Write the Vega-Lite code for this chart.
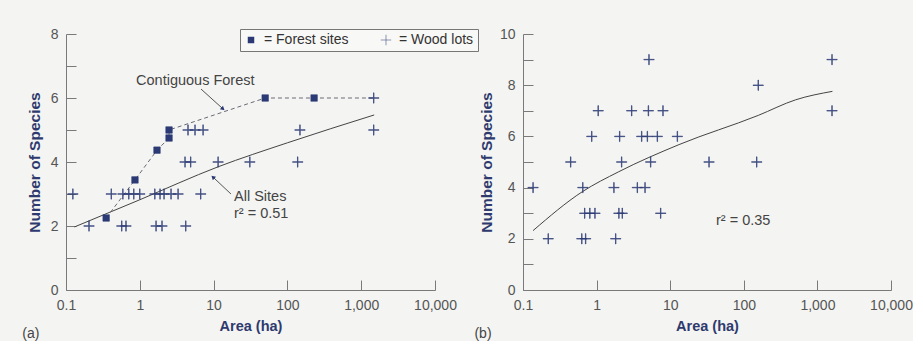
{
  "$schema": "https://vega.github.io/schema/vega-lite/v6.json",
  "background": "#f4f4f2",
  "padding": {"left": 22, "top": 27, "right": 0, "bottom": 0},
  "autosize": {"type": "pad"},
  "spacing": -5,
  "config": {
    "view": {"stroke": null},
    "font": "Liberation Sans",
    "axis": {
      "grid": false,
      "tickSize": -10,
      "labelPadding": 18,
      "domainColor": "#7a7a7a",
      "tickColor": "#7a7a7a",
      "domainWidth": 1,
      "tickWidth": 1,
      "labelColor": "#555555",
      "labelFontSize": 14,
      "labelFont": "Liberation Sans",
      "titleFont": "Liberation Sans",
      "titleFontSize": 14.5,
      "titleFontWeight": "bold",
      "titleColor": "#2e3a6e",
      "titlePadding": 8
    },
    "axisX": {"titlePadding": 7, "labelFlush": false},
    "axisY": {"titleFontSize": 15.5},
    "title": {"font": "Liberation Sans"}
  },
  "resolve": {"scale": {"x": "independent", "y": "independent", "shape": "independent"}},
  "datasets": {
    "ptsA": [
      {"area": 0.205, "species": 2, "type": "Wood lots"},
      {"area": 0.57, "species": 2, "type": "Wood lots"},
      {"area": 0.65, "species": 2, "type": "Wood lots"},
      {"area": 1.66, "species": 2, "type": "Wood lots"},
      {"area": 2.0, "species": 2, "type": "Wood lots"},
      {"area": 4.2, "species": 2, "type": "Wood lots"},
      {"area": 0.124, "species": 3, "type": "Wood lots"},
      {"area": 0.41, "species": 3, "type": "Wood lots"},
      {"area": 0.59, "species": 3, "type": "Wood lots"},
      {"area": 0.71, "species": 3, "type": "Wood lots"},
      {"area": 0.83, "species": 3, "type": "Wood lots"},
      {"area": 1.0, "species": 3, "type": "Wood lots"},
      {"area": 1.6, "species": 3, "type": "Wood lots"},
      {"area": 1.88, "species": 3, "type": "Wood lots"},
      {"area": 2.13, "species": 3, "type": "Wood lots"},
      {"area": 2.65, "species": 3, "type": "Wood lots"},
      {"area": 3.3, "species": 3, "type": "Wood lots"},
      {"area": 6.7, "species": 3, "type": "Wood lots"},
      {"area": 4.1, "species": 4, "type": "Wood lots"},
      {"area": 4.9, "species": 4, "type": "Wood lots"},
      {"area": 11.5, "species": 4, "type": "Wood lots"},
      {"area": 31, "species": 4, "type": "Wood lots"},
      {"area": 138, "species": 4, "type": "Wood lots"},
      {"area": 4.5, "species": 5, "type": "Wood lots"},
      {"area": 5.6, "species": 5, "type": "Wood lots"},
      {"area": 7.2, "species": 5, "type": "Wood lots"},
      {"area": 148, "species": 5, "type": "Wood lots"},
      {"area": 1480, "species": 5, "type": "Wood lots"},
      {"area": 1480, "species": 6, "type": "Wood lots"},
      {"area": 0.35, "species": 2.25, "type": "Forest sites"},
      {"area": 0.86, "species": 3.44, "type": "Forest sites"},
      {"area": 1.71, "species": 4.37, "type": "Forest sites"},
      {"area": 2.49, "species": 4.75, "type": "Forest sites"},
      {"area": 2.49, "species": 5.0, "type": "Forest sites"},
      {"area": 50, "species": 6, "type": "Forest sites"},
      {"area": 230, "species": 6, "type": "Forest sites"}
    ],
    "lineA": [
      {"area": 0.35, "species": 2.25, "order": 1},
      {"area": 0.86, "species": 3.44, "order": 2},
      {"area": 1.71, "species": 4.37, "order": 3},
      {"area": 2.49, "species": 4.75, "order": 4},
      {"area": 2.49, "species": 5.0, "order": 5},
      {"area": 50, "species": 6, "order": 6},
      {"area": 230, "species": 6, "order": 7},
      {"area": 1480, "species": 6, "order": 8}
    ],
    "fitA": [
      {"area": 0.13, "species": 1.97},
      {"area": 1, "species": 2.82},
      {"area": 11.5, "species": 3.85},
      {"area": 100, "species": 4.6},
      {"area": 1500, "species": 5.47}
    ],
    "textA": [
      {"area": 0.89, "species": 6.53, "label": "Contiguous Forest"},
      {"area": 18.9, "species": 2.9, "label": "All Sites"},
      {"area": 18.9, "species": 2.37, "label": "r² = 0.51"}
    ],
    "ptsB": [
      {"area": 0.22, "species": 2},
      {"area": 0.63, "species": 2},
      {"area": 0.71, "species": 2},
      {"area": 1.82, "species": 2},
      {"area": 0.69, "species": 3},
      {"area": 0.81, "species": 3},
      {"area": 0.95, "species": 3},
      {"area": 2.01, "species": 3},
      {"area": 2.23, "species": 3},
      {"area": 7.43, "species": 3},
      {"area": 0.137, "species": 4},
      {"area": 0.65, "species": 4},
      {"area": 1.72, "species": 4},
      {"area": 3.57, "species": 4},
      {"area": 4.55, "species": 4},
      {"area": 0.445, "species": 5},
      {"area": 2.19, "species": 5},
      {"area": 5.43, "species": 5},
      {"area": 33.7, "species": 5},
      {"area": 150, "species": 5},
      {"area": 0.86, "species": 6},
      {"area": 2.06, "species": 6},
      {"area": 4.1, "species": 6},
      {"area": 4.89, "species": 6},
      {"area": 6.68, "species": 6},
      {"area": 12.5, "species": 6},
      {"area": 1.05, "species": 7},
      {"area": 3.0, "species": 7},
      {"area": 5.05, "species": 7},
      {"area": 7.98, "species": 7},
      {"area": 1580, "species": 7},
      {"area": 157, "species": 8},
      {"area": 5.15, "species": 9},
      {"area": 1580, "species": 9}
    ],
    "fitB": [
      {"area": 0.137, "species": 2.32},
      {"area": 0.64, "species": 3.84},
      {"area": 2.0, "species": 4.62},
      {"area": 13.2, "species": 5.68},
      {"area": 157, "species": 6.82},
      {"area": 507, "species": 7.43},
      {"area": 1600, "species": 7.76}
    ],
    "textB": [
      {"area": 41.9, "species": 2.68, "label": "r² = 0.35"}
    ]
  },
  "hconcat": [
    {
      "width": 369,
      "height": 256,
      "title": {"text": "(a)", "orient": "bottom", "anchor": "start", "frame": "bounds", "offset": -6, "dx": -5, "fontSize": 14, "fontWeight": "normal", "color": "#444444"},
      "encoding": {
        "x": {"field": "area", "type": "quantitative", "scale": {"type": "log", "domain": [0.1, 10000], "nice": false},
              "axis": {"values": [0.1, 1, 10, 100, 1000, 10000], "format": ",", "title": "Area (ha)"}},
        "y": {"field": "species", "type": "quantitative", "scale": {"domain": [0, 8], "nice": false},
              "axis": {"values": [0, 1, 2, 3, 4, 5, 6, 7, 8], "labelExpr": "datum.value % 2 === 0 ? datum.label : ''", "title": "Number of Species"}}
      },
      "layer": [
        {
          "data": {"name": "fitA"},
          "mark": {"type": "line", "color": "#444444", "strokeWidth": 1, "interpolate": "monotone"}
        },
        {
          "data": {"name": "lineA"},
          "mark": {"type": "line", "color": "#6a6a78", "strokeWidth": 1, "strokeDash": [4, 3]},
          "encoding": {"order": {"field": "order", "type": "quantitative"}}
        },
        {
          "data": {"name": "ptsA"},
          "mark": {"type": "point", "filled": true, "fill": "#2b3a75", "stroke": "#2b3a75", "strokeWidth": 0.6, "size": 42, "opacity": 1, "fillOpacity": 1},
          "encoding": {
            "shape": {"field": "type", "type": "nominal",
              "scale": {"domain": ["Forest sites", "Wood lots"], "range": ["square", "M-1.6,-0.08H-0.08V-1.6H0.08V-0.08H1.6V0.08H0.08V1.6H-0.08V0.08H-1.6Z"]},
              "legend": {"title": null, "orient": "none", "legendX": 174, "legendY": -5, "direction": "horizontal",
                "labelExpr": "'= ' + datum.label", "symbolFillColor": "#2b3a75", "symbolStrokeColor": "#2b3a75",
                "symbolStrokeWidth": 0.8, "symbolSize": 42, "symbolOpacity": 1, "strokeColor": "#777777", "fillColor": "#f8f8f6",
                "padding": 4, "columnPadding": 30, "labelFontSize": 14, "labelColor": "#333333", "labelOffset": 6, "labelFont": "Liberation Sans"}}
          }
        },
        {
          "data": {"values": [
            {"area": 6.75, "species": 6.28, "area2": 13.4, "species2": 5.66},
            {"area": 17.2, "species": 3.0, "area2": 9.8, "species2": 3.53}
          ]},
          "mark": {"type": "rule", "color": "#555555", "strokeWidth": 1},
          "encoding": {"x2": {"field": "area2"}, "y2": {"field": "species2"}}
        },
        {
          "data": {"values": [{"area": 13.4, "species": 5.66}]},
          "mark": {"type": "point", "shape": "triangle-up", "filled": true, "color": "#2b3a75", "size": 22, "angle": 131, "opacity": 1}
        },
        {
          "data": {"values": [{"area": 9.8, "species": 3.53}]},
          "mark": {"type": "point", "shape": "triangle-up", "filled": true, "color": "#2b3a75", "size": 22, "angle": 313, "opacity": 1}
        },
        {
          "data": {"name": "textA"},
          "mark": {"type": "text", "align": "left", "baseline": "middle", "fontSize": 14.5, "color": "#444444", "font": "Liberation Sans"},
          "encoding": {"text": {"field": "label"}}
        }
      ]
    },
    {
      "width": 368,
      "height": 256,
      "title": {"text": "(b)", "orient": "bottom", "anchor": "start", "frame": "bounds", "offset": -6, "dx": -5, "fontSize": 14, "fontWeight": "normal", "color": "#444444"},
      "encoding": {
        "x": {"field": "area", "type": "quantitative", "scale": {"type": "log", "domain": [0.1, 10000], "nice": false},
              "axis": {"values": [0.1, 1, 10, 100, 1000, 10000], "format": ",", "title": "Area (ha)"}},
        "y": {"field": "species", "type": "quantitative", "scale": {"domain": [0, 10], "nice": false},
              "axis": {"values": [0, 1, 2, 3, 4, 5, 6, 7, 8, 9, 10], "labelExpr": "datum.value % 2 === 0 ? datum.label : ''", "title": "Number of Species", "titlePadding": 5}}
      },
      "layer": [
        {
          "data": {"name": "fitB"},
          "mark": {"type": "line", "color": "#444444", "strokeWidth": 1, "interpolate": "monotone"}
        },
        {
          "data": {"name": "ptsB"},
          "mark": {"type": "point", "shape": "M-1.6,-0.08H-0.08V-1.6H0.08V-0.08H1.6V0.08H0.08V1.6H-0.08V0.08H-1.6Z", "filled": true, "fill": "#2b3a75", "stroke": "#2b3a75", "strokeWidth": 0.6, "size": 42, "opacity": 1}
        },
        {
          "data": {"name": "textB"},
          "mark": {"type": "text", "align": "left", "baseline": "middle", "fontSize": 14.5, "color": "#444444", "font": "Liberation Sans"},
          "encoding": {"text": {"field": "label"}}
        }
      ]
    }
  ]
}
